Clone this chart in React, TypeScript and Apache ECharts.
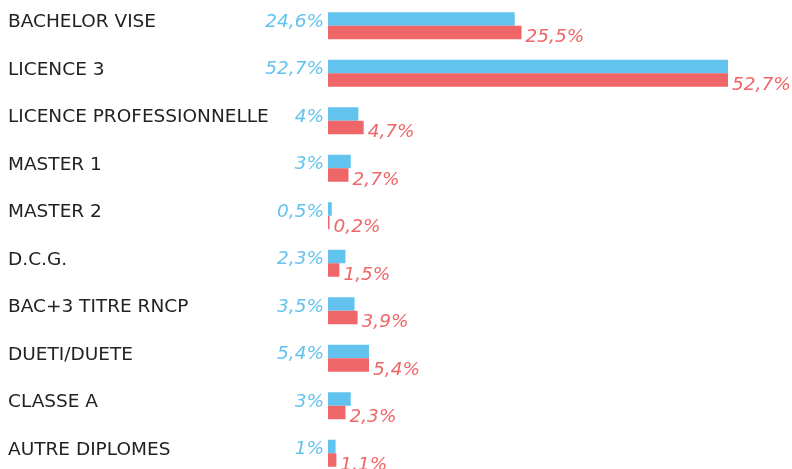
import React, { useEffect, useRef } from "react";
import * as echarts from "echarts";

const categories = [
  "BACHELOR VISE",
  "LICENCE 3",
  "LICENCE PROFESSIONNELLE",
  "MASTER 1",
  "MASTER 2",
  "D.C.G.",
  "BAC+3 TITRE RNCP",
  "DUETI/DUETE",
  "CLASSE A",
  "AUTRE DIPLOMES",
];
const blueValues = [24.6, 52.7, 4, 3, 0.5, 2.3, 3.5, 5.4, 3, 1];
const redValues = [25.5, 52.7, 4.7, 2.7, 0.2, 1.5, 3.9, 5.4, 2.3, 1.1];

const BLUE = "#63C3EF";
const RED = "#EE6668";
const FONT = "DejaVu Sans";

const fmt = (p: any) => String(p.value).replace(".", ",") + "%";

export default function App() {
  const ref = useRef<HTMLDivElement>(null);
  useEffect(() => {
    if (!ref.current) return;
    const chart = echarts.init(ref.current, null, { renderer: "svg" });
    chart.setOption({
      animation: false,
      grid: { left: 328, right: 8.6, top: 2, height: 475 },
      xAxis: {
        type: "value",
        min: 0,
        max: 60,
        show: false,
      },
      yAxis: {
        type: "category",
        data: categories,
        inverse: true,
        axisLine: { show: false },
        axisTick: { show: false },
        splitLine: { show: false },
        axisLabel: {
          align: "left",
          margin: 320,
          color: "#222",
          fontFamily: FONT,
          fontSize: 18.5,
          verticalAlign: "bottom",
          lineHeight: 10,
        },
      },
      series: [
        {
          type: "bar",
          data: blueValues,
          barWidth: 13.5,
          barGap: "0%",
          itemStyle: { color: BLUE },
          label: {
            show: true,
            position: "left",
            distance: 4,
            color: BLUE,
            fontFamily: FONT,
            fontStyle: "italic",
            fontSize: 18.5,
            offset: [0, 1],
            formatter: fmt,
          },
        },
        {
          type: "bar",
          data: redValues,
          barWidth: 13.5,
          barGap: "0%",
          itemStyle: { color: RED },
          label: {
            show: true,
            position: "right",
            distance: 4,
            color: RED,
            fontFamily: FONT,
            fontStyle: "italic",
            fontSize: 18.5,
            offset: [0, 3],
            formatter: fmt,
          },
        },
      ],
    });
    return () => chart.dispose();
  }, []);
  return (
    <div
      ref={ref}
      style={{ position: "fixed", left: 0, top: 0, width: 792, height: 477 }}
    />
  );
}
